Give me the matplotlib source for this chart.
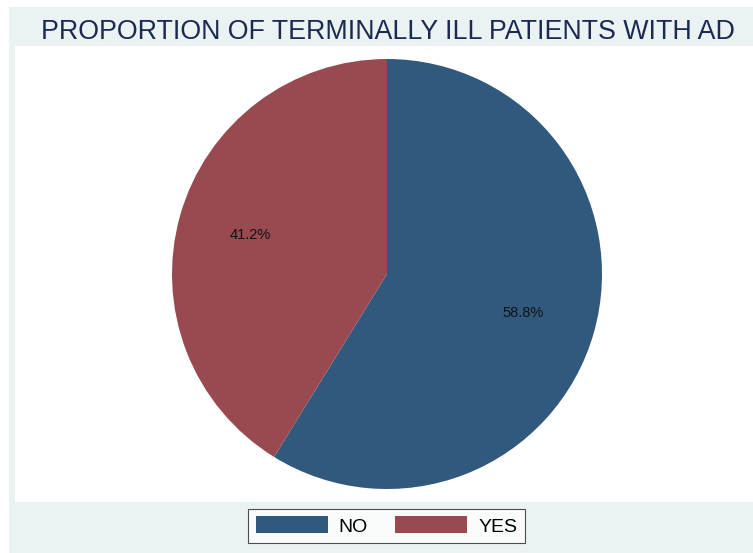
import matplotlib
matplotlib.use("Agg")
import matplotlib.pyplot as plt
from matplotlib.patches import Rectangle

# data
labels = ["NO", "YES"]
shares = [58.8, 41.2]
colors = ["#31597D", "#984A50"]

plt.rcParams["font.family"] = ["Liberation Sans", "DejaVu Sans"]

W, H = 753, 553
fig = plt.figure(figsize=(W / 100, H / 100), dpi=100)
fig.patch.set_facecolor("white")

# graph region (light blue-grey) and plot region (white), in pixels from top-left
def px_rect(x0, y0, x1, y1, color):
    fig.patches.append(Rectangle((x0 / W, 1 - y1 / H), (x1 - x0) / W, (y1 - y0) / H,
                                 transform=fig.transFigure, facecolor=color,
                                 edgecolor="none", zorder=-5))

px_rect(9, 7, W, H, "#EAF2F3")
px_rect(15, 46, W, 502, "white")

fig.text(388 / W, 1 - 32 / H, "PROPORTION OF TERMINALLY ILL PATIENTS WITH AD",
         ha="center", va="center", fontsize=19.3, color="#1C2A50")

# pie axes: centre (387, 274), radius 215 px
r = 215
cx, cy = 387, 274
ax = fig.add_axes([(cx - r) / W, 1 - (cy + r) / H, 2 * r / W, 2 * r / H], zorder=2)
ax.patch.set_visible(False)
wedges, texts, autotexts = ax.pie(
    shares, colors=colors, startangle=90, counterclock=False,
    autopct="%.1f%%", pctdistance=0.66,
    wedgeprops=dict(linewidth=0),
    textprops=dict(fontsize=10.5, color="#111111"),
)
ax.set_xlim(-1, 1)
ax.set_ylim(-1, 1)
ax.set_aspect("equal")

leg = fig.legend(
    wedges, labels, loc="center", bbox_to_anchor=(386.5 / W, 1 - 526 / H),
    ncol=2, fontsize=14, frameon=True, fancybox=False, edgecolor="#222222",
    handlelength=3.7, handleheight=0.95, handletextpad=0.57, columnspacing=1.4,
    borderpad=0.4, borderaxespad=0,
)
leg.get_frame().set_linewidth(0.8)
leg.set_zorder(3)

fig.savefig("out.png", dpi=100)
